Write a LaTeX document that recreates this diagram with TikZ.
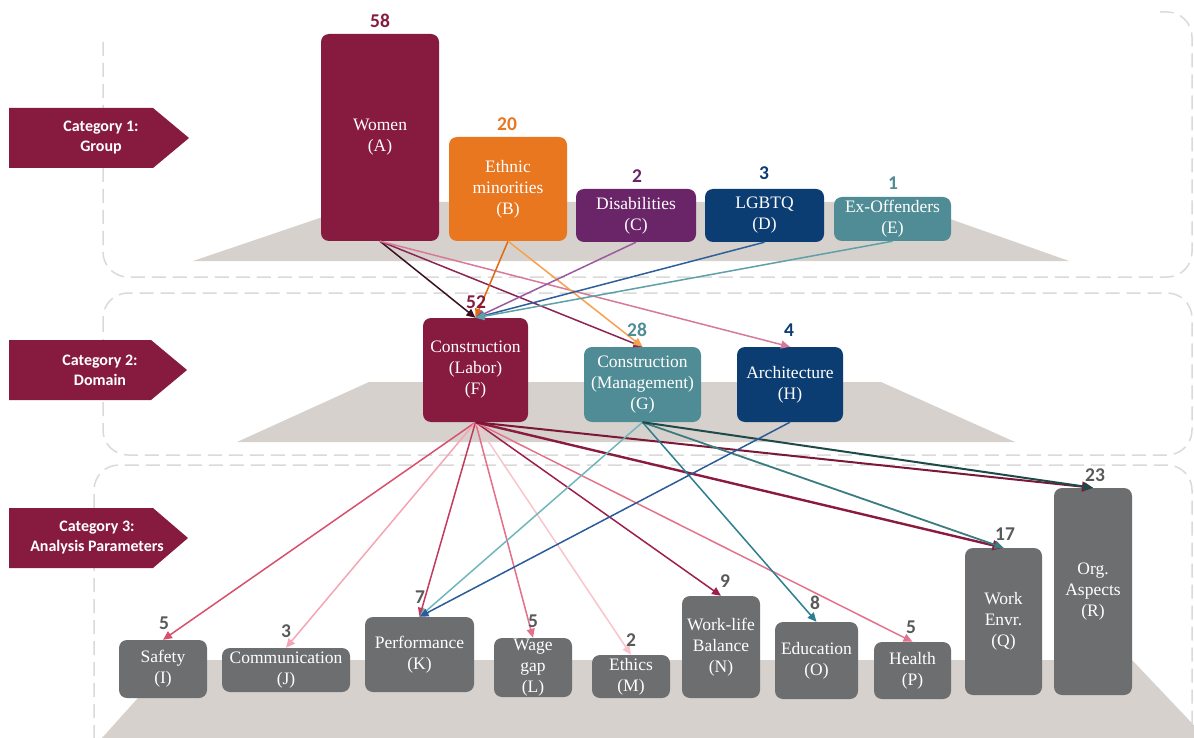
\documentclass[tikz,border=0pt]{standalone}
\usepackage{fontspec}
\setmainfont{Liberation Serif}
\newfontfamily\serfont{Liberation Serif}
\newfontfamily\calfont{Carlito}
\usetikzlibrary{arrows.meta}
\definecolor{cmaroon}{HTML}{861B3F}
\definecolor{corange}{HTML}{E8771F}
\definecolor{cpurple}{HTML}{6A2468}
\definecolor{cnavy}{HTML}{0B3D73}
\definecolor{cteal}{HTML}{4F8C95}
\definecolor{cgray}{HTML}{6D6E70}
\definecolor{cnum}{HTML}{595959}
\definecolor{cplat}{HTML}{D6D1CC}
\definecolor{cpanel}{HTML}{DADADA}
\definecolor{lAF}{HTML}{3A0F22}
\definecolor{lAG}{HTML}{8E2452}
\definecolor{lAH}{HTML}{D77A9A}
\definecolor{lBF}{HTML}{E06A12}
\definecolor{lBG}{HTML}{F5A24E}
\definecolor{lCF}{HTML}{9B5AA0}
\definecolor{lDF}{HTML}{2F5F9A}
\definecolor{lEF}{HTML}{5FA0A8}
\definecolor{lFI}{HTML}{D9506E}
\definecolor{lFJ}{HTML}{F4A6B4}
\definecolor{lFK}{HTML}{C23A5E}
\definecolor{lFL}{HTML}{E46F89}
\definecolor{lFM}{HTML}{F8C5CC}
\definecolor{lFN}{HTML}{9E1F4C}
\definecolor{lFP}{HTML}{E3728C}
\definecolor{lFQ}{HTML}{8B1A3F}
\definecolor{lFR}{HTML}{7B1838}
\definecolor{lGK}{HTML}{6FB7BD}
\definecolor{lGO}{HTML}{2D7F8F}
\definecolor{lGQ}{HTML}{3B7C80}
\definecolor{lGR}{HTML}{1F4A4A}
\definecolor{lHK}{HTML}{2B5B98}
\newcommand\boxfont{\serfont\fontsize{17.5}{21}\selectfont}
\newcommand\numfont{\calfont\bfseries\fontsize{19.5}{20}\selectfont}
\newcommand\catfont{\calfont\bfseries\fontsize{16}{20}\selectfont}
\begin{document}
\begin{tikzpicture}[x=1pt,y=-1pt,
  box/.style={rounded corners=8pt, inner sep=0pt, align=center, text=white, font=\boxfont},
  gbox/.style={box, fill=cgray},
  cnt/.style={inner sep=0pt, font=\numfont},
  bcnt/.style={cnt, text=cnum},
  catlabel/.style={inner sep=0pt, align=center, text=white, font=\catfont},
  catshape/.style={fill=cmaroon},
  plat/.style={fill=cplat},
  panel/.style={draw=cpanel, line width=1.5pt, dash pattern=on 14pt off 7pt, rounded corners=25pt},
  link/.style={line width=1.5pt, -{Triangle[length=9pt,width=8pt]}},
  heavylink/.style={line width=2.4pt, -{Triangle[length=11pt,width=10pt]}}
]
\fill[white] (0,0) rectangle (1194,738);
\useasboundingbox (0,0) rectangle (1194,738);

% panels
\draw[panel] (103,42) -- (103,277) -- (1192,277) -- (1192,12) -- (1160,12);
\draw[panel] (103,293) rectangle (1192,455);
\draw[panel] (94,760) -- (94,465) -- (1192,465) -- (1192,760);

% platforms
\fill[plat] (367,202) -- (902,202) -- (1069,261) -- (193,261) -- cycle;
\fill[plat] (369,382) -- (881,382) -- (1015,442) -- (237,442) -- cycle;
\fill[plat] (172,660) -- (1132,660) -- (1206,738) -- (102,738) -- cycle;

% category arrows
\fill[catshape] (9,108) -- (153,108) -- (189,138) -- (153,168) -- (9,168) -- cycle;
\fill[catshape] (9,340) -- (151,340) -- (187,370) -- (151,400) -- (9,400) -- cycle;
\fill[catshape] (9,508) -- (153,508) -- (188,538) -- (153,568) -- (9,568) -- cycle;
\node[catlabel] (cat1) at (101,138) {Category 1:\\Group};
\node[catlabel] (cat2) at (100,370) {Category 2:\\Domain};
\node[catlabel] (cat3) at (97,538) {Category 3:\\Analysis Parameters};

% boxes row 1
\node[box, fill=cmaroon, minimum width=118pt, minimum height=207pt] (A) at (380,137.5) {Women\\(A)};
\node[box, fill=corange, minimum width=118pt, minimum height=104pt] (B) at (508,189) {Ethnic\\minorities\\(B)};
\node[box, fill=cpurple, minimum width=120pt, minimum height=53pt] (C) at (636,215.5) {Disabilities\\(C)};
\node[box, fill=cnavy, minimum width=119pt, minimum height=53pt] (D) at (764.5,215.5) {LGBTQ\\(D)};
\node[box, fill=cteal, minimum width=117pt, minimum height=44pt] (E) at (892.5,219) {Ex-Offenders\\(E)};

% boxes row 2
\node[box, fill=cmaroon, minimum width=105pt, minimum height=104pt] (F) at (475.5,370) {Construction\\(Labor)\\(F)};
\node[box, fill=cteal, minimum width=117pt, minimum height=75pt] (G) at (642.5,384.5) {Construction\\(Management)\\(G)};
\node[box, fill=cnavy, minimum width=106pt, minimum height=75pt] (H) at (790,384.5) {Architecture\\(H)};

% boxes row 3
\node[gbox, minimum width=88pt, minimum height=58pt] (I) at (163,669) {Safety\\(I)};
\node[gbox, minimum width=128pt, minimum height=44pt] (J) at (286,670) {Communication\\(J)};
\node[gbox, minimum width=109pt, minimum height=75pt] (K) at (419.5,654.5) {Performance\\(K)};
\node[gbox, minimum width=78pt, minimum height=59pt] (L) at (533,667.5) {Wage\\gap\\(L)};
\node[gbox, minimum width=78pt, minimum height=43pt] (M) at (631,676.5) {Ethics\\(M)};
\node[gbox, minimum width=78pt, minimum height=102pt] (N) at (721,647) {Work-life\\Balance\\(N)};
\node[gbox, minimum width=83pt, minimum height=77pt] (O) at (816.5,660.5) {Education\\(O)};
\node[gbox, minimum width=77pt, minimum height=57pt] (P) at (912.5,670.5) {Health\\(P)};
\node[gbox, minimum width=77pt, minimum height=147pt] (Q) at (1003.5,621.5) {Work\\Envr.\\(Q)};
\node[gbox, minimum width=78pt, minimum height=207pt] (R) at (1093,591.5) {Org.\\Aspects\\(R)};

% connectors row1 -> row2
\draw[link, lAF] (A.south) -- (F.north);
\draw[link, lAG] (A.south) -- (G.north);
\draw[link, lAH] (A.south) -- (H.north);
\draw[link, lBF] (B.south) -- (F.north);
\draw[link, lBG] (B.south) -- (G.north);
\draw[link, lCF] (C.south) -- (F.north);
\draw[link, lDF] (D.south) -- (F.north);
\draw[link, lEF] (E.south) -- (F.north);

% connectors row2 -> row3
\draw[link, lFI] (F.south) -- (I.north);
\draw[link, lFJ] (F.south) -- (J.north);
\draw[link, lFK] (F.south) -- (K.north);
\draw[link, lFL] (F.south) -- (L.north);
\draw[link, lFM] (F.south) -- (M.north);
\draw[link, lFN] (F.south) -- (N.north);
\draw[link, lFP] (F.south) -- (P.north);
\draw[heavylink, lFQ] (F.south) -- (Q.north);
\draw[heavylink, lFR, line width=2pt] (F.south) -- (R.north);
\draw[link, lGK] (G.south) -- (K.north);
\draw[link, lGO] (G.south) -- (O.north);
\draw[link, lGQ, line width=1.8pt] (G.south) -- (Q.north);
\draw[link, lGR, line width=2pt] (G.south) -- (R.north);
\draw[link, lHK] (H.south) -- (K.north);

% counts
\node[cnt, text=cmaroon] (nA) at (380,21) {58};
\node[cnt, text=corange] (nB) at (507,124) {20};
\node[cnt, text=cpurple] (nC) at (637,176) {2};
\node[cnt, text=cnavy] (nD) at (764,173) {3};
\node[cnt, text=cteal] (nE) at (893,183) {1};
\node[cnt, text=cmaroon] (nF) at (476,302) {52};
\node[cnt, text=cteal] (nG) at (637,330) {28};
\node[cnt, text=cnavy] (nH) at (789,330) {4};
\node[bcnt] (nI) at (164,623) {5};
\node[bcnt] (nJ) at (286,631) {3};
\node[bcnt] (nK) at (420,597) {7};
\node[bcnt] (nL) at (533,621) {5};
\node[bcnt] (nM) at (631,640) {2};
\node[bcnt] (nN) at (725,581) {9};
\node[bcnt] (nO) at (815,603) {8};
\node[bcnt] (nP) at (911,627) {5};
\node[bcnt] (nQ) at (1005,534) {17};
\node[bcnt] (nR) at (1095,475) {23};
\end{tikzpicture}
\end{document}
